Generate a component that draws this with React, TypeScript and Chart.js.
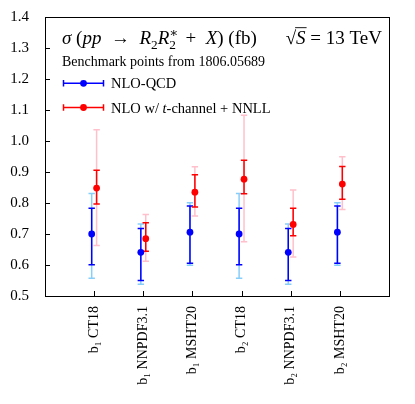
import React, { useEffect, useRef } from "react";
import { Chart, registerables } from "chart.js";

Chart.register(...registerables);

const categories = ["b₁ CT18", "b₁ NNPDF3.1", "b₁ MSHT20", "b₂ CT18", "b₂ NNPDF3.1", "b₂ MSHT20"];
const yTicks = [0.5, 0.6, 0.7, 0.8, 0.9, 1.0, 1.1, 1.2, 1.3, 1.4];

const nloCentral = [0.700, 0.641, 0.706, 0.700, 0.641, 0.706];
const nloScaleLo = [0.601, 0.550, 0.606, 0.601, 0.550, 0.606];
const nloScaleHi = [0.783, 0.718, 0.790, 0.783, 0.718, 0.790];
const nloPdfLo = [0.557, 0.538, 0.599, 0.557, 0.538, 0.599];
const nloPdfHi = [0.831, 0.732, 0.801, 0.831, 0.732, 0.801];

const nnllCentral = [0.848, 0.685, 0.835, 0.877, 0.731, 0.861];
const nnllScaleLo = [0.797, 0.644, 0.787, 0.830, 0.694, 0.812];
const nnllScaleHi = [0.906, 0.736, 0.891, 0.938, 0.783, 0.918];
const nnllPdfLo = [0.663, 0.612, 0.758, 0.675, 0.626, 0.779];
const nnllPdfHi = [1.036, 0.763, 0.917, 1.083, 0.842, 0.949];

const seriesNames = ["NLO-QCD", "NLO w/ t-channel + NNLL"];
const titleNote = "Benchmark points from 1806.05689";

const SERIF = '"Liberation Serif", "DejaVu Serif", serif';
const BLUE = "#0000ff";
const RED = "#ff0000";
const LIGHTBLUE = "#87cefa";
const PINK = "#ffc0cb";
const OFF = 0.05;

type Run = { t: string; it?: boolean; sub?: boolean; sup?: boolean; noAdv?: boolean; over?: boolean };

function drawRuns(ctx: CanvasRenderingContext2D, x: number, y: number, runs: Run[], size: number, measureOnly = false): number {
  let cx = x;
  for (const r of runs) {
    const sz = r.sub || r.sup ? size * 0.7 : size;
    ctx.font = `${r.it ? "italic " : ""}${sz}px ${SERIF}`;
    const dy = r.sub ? size * 0.25 : r.sup ? -size * 0.38 : 0;
    const w = ctx.measureText(r.t).width;
    if (!measureOnly) {
      ctx.fillText(r.t, cx, y + dy);
      if (r.over) {
        ctx.beginPath();
        ctx.lineWidth = 0.9;
        ctx.moveTo(cx - 1, y - size * 0.86);
        ctx.lineTo(cx + w + 1, y - size * 0.86);
        ctx.stroke();
      }
    }
    if (!r.noAdv) cx += w;
  }
  return cx - x;
}

function errBar(ctx: CanvasRenderingContext2D, x: number, y1: number, y2: number, color: string, lw: number, cap: number) {
  ctx.strokeStyle = color;
  ctx.lineWidth = lw;
  ctx.beginPath();
  ctx.moveTo(x, y1);
  ctx.lineTo(x, y2);
  ctx.moveTo(x - cap, y1);
  ctx.lineTo(x + cap, y1);
  ctx.moveTo(x - cap, y2);
  ctx.lineTo(x + cap, y2);
  ctx.stroke();
}

const errorBarPlugin = {
  id: "errorBars",
  beforeDatasetsDraw(chart: any) {
    const ctx = chart.ctx as CanvasRenderingContext2D;
    const xs = chart.scales.x;
    const ys = chart.scales.y;
    ctx.save();
    const groups = [
      { off: -OFF, lo: nloPdfLo, hi: nloPdfHi, color: LIGHTBLUE, lw: 1.5 },
      { off: OFF, lo: nnllPdfLo, hi: nnllPdfHi, color: PINK, lw: 1.5 },
      { off: -OFF, lo: nloScaleLo, hi: nloScaleHi, color: BLUE, lw: 1.5 },
      { off: OFF, lo: nnllScaleLo, hi: nnllScaleHi, color: RED, lw: 1.5 },
    ];
    for (const g of groups) {
      for (let i = 0; i < categories.length; i++) {
        const x = xs.getPixelForValue(i + 1 + g.off);
        errBar(ctx, x, ys.getPixelForValue(g.lo[i]), ys.getPixelForValue(g.hi[i]), g.color, g.lw, 3.2);
      }
    }
    ctx.restore();
  },
  afterDraw(chart: any) {
    const ctx = chart.ctx as CanvasRenderingContext2D;
    const a = chart.chartArea;
    const xs = chart.scales.x;
    const ys = chart.scales.y;
    ctx.save();
    // frame
    ctx.strokeStyle = "#000";
    ctx.lineWidth = 1;
    ctx.strokeRect(Math.round(a.left) + 0.5, Math.round(a.top) + 0.5, Math.round(a.right - a.left), Math.round(a.bottom - a.top));
    // inner ticks
    ctx.beginPath();
    for (const v of yTicks) {
      const y = Math.round(ys.getPixelForValue(v)) + 0.5;
      ctx.moveTo(a.left, y);
      ctx.lineTo(a.left + 5, y);
    }
    for (let i = 1; i <= categories.length; i++) {
      const x = Math.round(xs.getPixelForValue(i)) + 0.5;
      ctx.moveTo(x, a.bottom);
      ctx.lineTo(x, a.bottom - 5);
    }
    ctx.stroke();

    // title
    ctx.fillStyle = "#000";
    ctx.strokeStyle = "#000";
    ctx.textBaseline = "alphabetic";
    ctx.textAlign = "left";
    const tSize = 19;
    const left: Run[] = [
      { t: "σ", it: true },
      { t: " (" },
      { t: "pp", it: true },
      { t: "\u2002→\u2002" },
      { t: "R", it: true },
      { t: "2", sub: true },
      { t: "R", it: true },
      { t: "∗", sup: true, noAdv: true },
      { t: "2", sub: true },
      { t: "\u2002+\u2002" },
      { t: "X", it: true },
      { t: ") (fb)" },
    ];
    drawRuns(ctx, 62, 44, left, tSize);
    const right: Run[] = [
      { t: "√" },
      { t: "S", it: true, over: true },
      { t: " = 13 TeV" },
    ];
    const rw = drawRuns(ctx, 0, 0, right, tSize, true);
    drawRuns(ctx, 382 - rw, 44, right, tSize);

    ctx.font = `14px ${SERIF}`;
    ctx.fillText(titleNote, 62, 66);

    // legend
    const leg = [
      { y: 83.3, color: BLUE, runs: [{ t: seriesNames[0] }] as Run[] },
      { y: 107.5, color: RED, runs: [{ t: "NLO w/ " }, { t: "t", it: true }, { t: "-channel + NNLL" }] as Run[] },
    ];
    for (const l of leg) {
      ctx.strokeStyle = l.color;
      ctx.lineWidth = 1.5;
      ctx.beginPath();
      ctx.moveTo(63.5, l.y);
      ctx.lineTo(103.5, l.y);
      ctx.moveTo(63.5, l.y - 3.2);
      ctx.lineTo(63.5, l.y + 3.2);
      ctx.moveTo(103.5, l.y - 3.2);
      ctx.lineTo(103.5, l.y + 3.2);
      ctx.stroke();
      ctx.fillStyle = l.color;
      ctx.beginPath();
      ctx.arc(83.5, l.y, 3.4, 0, Math.PI * 2);
      ctx.fill();
      ctx.fillStyle = "#000";
      ctx.strokeStyle = "#000";
      drawRuns(ctx, 111, l.y + 5, l.runs, 14.5);
    }
    ctx.restore();
  },
};

export default function App() {
  const ref = useRef<HTMLCanvasElement>(null);
  useEffect(() => {
    if (!ref.current) return;
    const chart = new Chart(ref.current, {
      type: "scatter",
      data: {
        datasets: [
          {
            label: seriesNames[0],
            data: nloCentral.map((v, i) => ({ x: i + 1 - OFF, y: v })),
            backgroundColor: BLUE,
            borderColor: BLUE,
            pointRadius: 3.4,
            pointBorderWidth: 0,
          },
          {
            label: seriesNames[1],
            data: nnllCentral.map((v, i) => ({ x: i + 1 + OFF, y: v })),
            backgroundColor: RED,
            borderColor: RED,
            pointRadius: 3.4,
            pointBorderWidth: 0,
          },
        ],
      },
      options: {
        animation: false,
        responsive: false,
        maintainAspectRatio: false,
        layout: { padding: { top: 16, right: 26, left: 0, bottom: 0 } },
        plugins: { legend: { display: false }, title: { display: false }, tooltip: { enabled: false } },
        scales: {
          x: {
            type: "linear",
            min: 0,
            max: 7,
            afterBuildTicks: (s: any) => {
              s.ticks = categories.map((_, i) => ({ value: i + 1 }));
            },
            afterFit: (s: any) => {
              s.height = 108;
            },
            grid: { display: false },
            border: { display: false },
            ticks: {
              autoSkip: false,
              maxRotation: 90,
              minRotation: 90,
              padding: 2,
              color: "#000",
              font: { family: SERIF, size: 14 },
              callback: (v: any) => categories[Math.round(v) - 1] ?? "",
            },
          },
          y: {
            min: 0.5,
            max: 1.4,
            afterBuildTicks: (s: any) => {
              s.ticks = yTicks.map((v) => ({ value: v }));
            },
            afterFit: (s: any) => {
              s.width = 45;
            },
            grid: { display: false },
            border: { display: false },
            ticks: {
              padding: 8,
              color: "#000",
              font: { family: SERIF, size: 15 },
              callback: (v: any) => Number(v).toFixed(1),
            },
          },
        },
      },
      plugins: [errorBarPlugin],
    } as any);
    return () => chart.destroy();
  }, []);
  return (
    <div style={{ position: "fixed", left: 0, top: 0, width: 415, height: 404, background: "#fff" }}>
      <canvas ref={ref} width={415} height={404} style={{ width: 415, height: 404 }} />
    </div>
  );
}
